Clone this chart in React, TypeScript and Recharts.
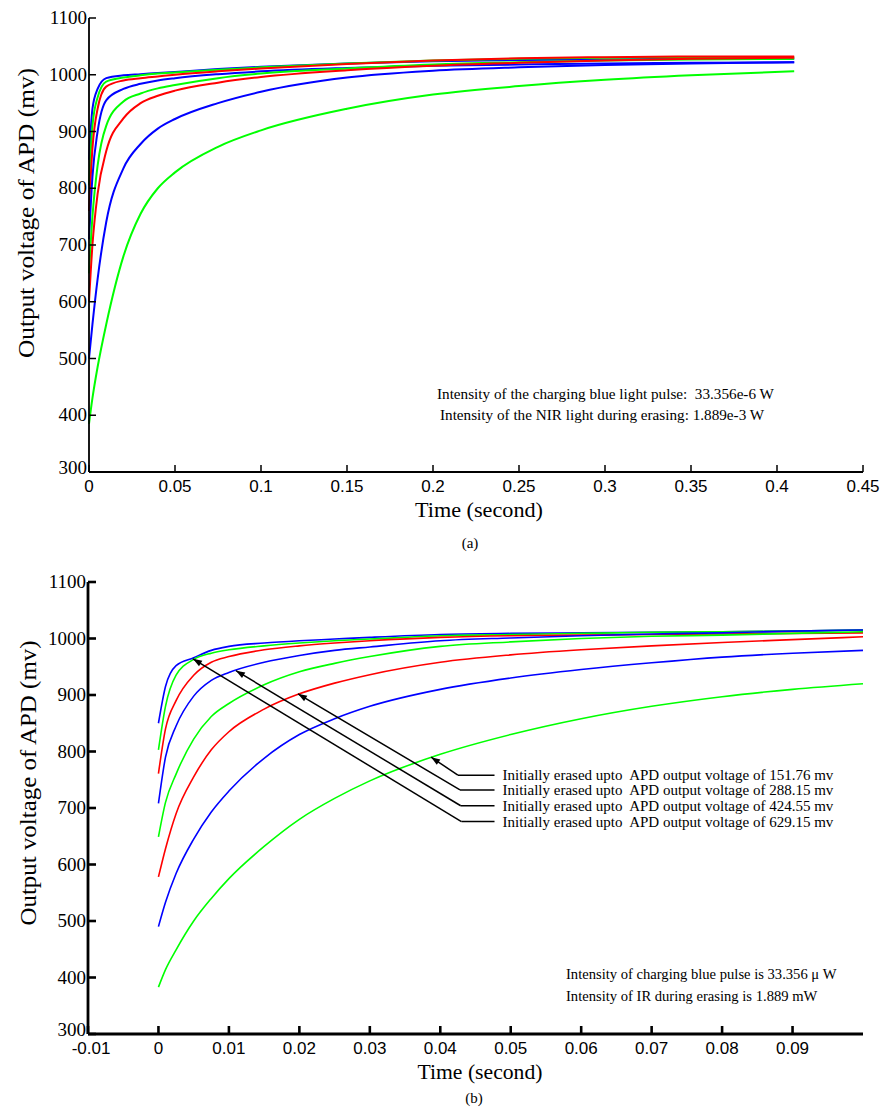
import React from "react";
import { LineChart, Line, XAxis, YAxis, ReferenceLine } from "recharts";

const SERIF = '"Liberation Serif", "Times New Roman", serif';
const SANS = '"Liberation Sans", Arial, sans-serif';

const BLUE = "#0000ff";
const GREEN = "#00ff00";
const RED = "#ff0000";

// ---------- panel (a): whole recovery, 0 - 0.41 s ----------
const timeA = [0, 0.002, 0.005, 0.01, 0.02, 0.03, 0.04, 0.05, 0.075, 0.1, 0.15, 0.2, 0.25, 0.3, 0.35, 0.41];
const a1 = [850, 940, 975, 994, 999, 1001, 1003, 1005, 1010, 1014, 1020, 1024, 1026, 1027, 1028, 1028];
const a2 = [805, 910, 960, 988, 995, 999, 1002, 1004, 1009, 1013, 1020, 1025, 1028, 1030, 1031, 1031];
const a3 = [760, 870, 940, 979, 990, 994, 997, 1000, 1006, 1011, 1019, 1025, 1029, 1031, 1032, 1032];
const a4 = [710, 820, 900, 955, 975, 984, 990, 994, 1001, 1006, 1012, 1016, 1018, 1020, 1021, 1022];
const a5 = [650, 750, 840, 910, 953, 967, 976, 982, 994, 1002, 1011, 1018, 1022, 1025, 1027, 1028];
const a6 = [600, 700, 790, 865, 923, 950, 963, 972, 986, 996, 1008, 1016, 1021, 1025, 1028, 1030];
const a7 = [500, 560, 640, 740, 835, 878, 905, 922, 950, 970, 995, 1007, 1013, 1017, 1020, 1022];
const a8 = [385, 430, 485, 560, 680, 755, 800, 828, 873, 902, 940, 965, 980, 991, 999, 1006];

const xTicksA = [0, 0.05, 0.1, 0.15, 0.2, 0.25, 0.3, 0.35, 0.4, 0.45];

// ---------- panel (b): first 0.1 s ----------
const timeB = [0, 0.001, 0.0025, 0.005, 0.0075, 0.01, 0.015, 0.02, 0.025, 0.03, 0.04, 0.05, 0.06, 0.07, 0.08, 0.09, 0.1];
const b1 = [850, 915, 952, 966, 979, 986, 992, 996, 999, 1002, 1007, 1009, 1010, 1011, 1012, 1013, 1015];
const b2 = [803, 880, 935, 963, 974, 980, 987, 992, 996, 999, 1005, 1007, 1009, 1011, 1012, 1013, 1015];
const b3 = [761, 840, 890, 935, 958, 968, 980, 987, 992, 996, 1002, 1005, 1006, 1007, 1008, 1009, 1010];
const b4 = [708, 790, 845, 898, 926, 940, 958, 970, 979, 985, 996, 1001, 1005, 1008, 1010, 1013, 1015];
const b5 = [649, 710, 760, 822, 862, 885, 918, 941, 956, 968, 986, 994, 1000, 1004, 1006, 1009, 1012];
const b6 = [578, 628, 690, 755, 803, 835, 875, 902, 921, 936, 958, 971, 980, 987, 993, 998, 1003];
const b7 = [490, 533, 584, 645, 693, 730, 788, 830, 858, 880, 910, 930, 945, 957, 967, 974, 979];
const b8 = [383, 414, 449, 500, 540, 575, 632, 680, 717, 748, 795, 830, 858, 880, 897, 910, 920];

const xTicksB = [-0.01, 0, 0.01, 0.02, 0.03, 0.04, 0.05, 0.06, 0.07, 0.08, 0.09];
const yTicks = [300, 400, 500, 600, 700, 800, 900, 1000, 1100];

const traceColors = [BLUE, GREEN, RED, BLUE, GREEN, RED, BLUE, GREEN];
const traceKeys = ["s1", "s2", "s3", "s4", "s5", "s6", "s7", "s8"];

const dataA = timeA.map((t, i) => ({
  t, s1: a1[i], s2: a2[i], s3: a3[i], s4: a4[i], s5: a5[i], s6: a6[i], s7: a7[i], s8: a8[i],
}));
const dataB = timeB.map((t, i) => ({
  t, s1: b1[i], s2: b2[i], s3: b3[i], s4: b4[i], s5: b5[i], s6: b6[i], s7: b7[i], s8: b8[i],
}));

// arrows of panel (b): tip on a curve, knee, then a short leader to the text
const arrowNotes = [
  { text: "Initially erased upto  APD output voltage of 151.76 mv", tip: [0.0387, 790], knee: [0.0425, 758] },
  { text: "Initially erased upto  APD output voltage of 288.15 mv", tip: [0.0198, 902], knee: [0.0428, 732] },
  { text: "Initially erased upto  APD output voltage of 424.55 mv", tip: [0.011, 943], knee: [0.0429, 704] },
  { text: "Initially erased upto  APD output voltage of 629.15 mv", tip: [0.0049, 964], knee: [0.043, 676] },
];
const leaderEnd = 0.0477;

const makeYTick = (len: number, w: number) => (props: any) => {
  const { x, y, payload } = props;
  // the lowest label sits a little above the corner, as in the original
  const dy = payload.value === 300 ? 2 : 6;
  return (
    <g>
      <line x1={x} y1={y} x2={x + len} y2={y} stroke="#000" strokeWidth={w} />
      <text x={x - 2} y={y + dy} textAnchor="end" fontFamily={SERIF} fontSize={19} fill="#000">
        {payload.value}
      </text>
    </g>
  );
};

const makeXTick = (len: number, w: number) => (props: any) => {
  const { x, y, payload } = props;
  return (
    <g>
      <line x1={x} y1={y} x2={x} y2={y - len} stroke="#000" strokeWidth={w} />
      <text x={payload.value < 0 ? x + 3 : x} y={y + 20} textAnchor="middle" fontFamily={SANS} fontSize={17} fill="#000">
        {String(payload.value)}
      </text>
    </g>
  );
};

const ArrowShape = (p: any) => {
  const { x1, y1, x2, y2 } = p;
  const ang = Math.atan2(y1 - y2, x1 - x2);
  const L = 9;
  const W = 3.2;
  const bx = x1 - L * Math.cos(ang);
  const by = y1 - L * Math.sin(ang);
  const pts = `${x1},${y1} ${bx + W * Math.sin(ang)},${by - W * Math.cos(ang)} ${bx - W * Math.sin(ang)},${by + W * Math.cos(ang)}`;
  return (
    <g>
      <line x1={x1} y1={y1} x2={x2} y2={y2} stroke="#000" strokeWidth={1.5} />
      <polygon points={pts} fill="#000" />
    </g>
  );
};

const leaderShape = (text: string) => (p: any) => {
  const { x1, y1, x2, y2 } = p;
  return (
    <g>
      <line x1={x1} y1={y1} x2={x2} y2={y2} stroke="#000" strokeWidth={1.5} />
      <text x={x2 + 8} y={y2} dominantBaseline="central" fontFamily={SERIF} fontSize={15} fill="#000" style={{ whiteSpace: "pre" }}>
        {text}
      </text>
    </g>
  );
};

export default function App() {
  return (
    <div style={{ position: "absolute", left: 0, top: 0, width: 881, height: 1107, background: "#fff", overflow: "hidden" }}>
      {/* (a) */}
      <div style={{ position: "absolute", left: 0, top: 0 }}>
        <LineChart width={881} height={530} data={dataA} margin={{ top: 18, right: 18, left: 29, bottom: 28 }}>
          <XAxis
            dataKey="t"
            type="number"
            domain={[0, 0.45]}
            ticks={xTicksA}
            height={30}
            tickSize={0}
            tickMargin={0}
            tickLine={false}
            axisLine={{ stroke: "#000", strokeWidth: 1.8 }}
            tick={makeXTick(7, 1.5)}
            interval={0}
          />
          <YAxis
            type="number"
            domain={[300, 1100]}
            ticks={yTicks}
            width={60}
            tickSize={0}
            tickMargin={0}
            tickLine={false}
            axisLine={{ stroke: "#000", strokeWidth: 1.8 }}
            tick={makeYTick(7, 1.5)}
            interval={0}
          />
          {traceKeys.map((k, i) => (
            <Line key={k} dataKey={k} type="monotone" stroke={traceColors[i]} strokeWidth={2} dot={false} isAnimationActive={false} />
          ))}
        </LineChart>
      </div>

      {/* (b) */}
      <div style={{ position: "absolute", left: 0, top: 550 }}>
        <LineChart width={881} height={540} data={dataB} margin={{ top: 32, right: 18, left: 28, bottom: 26 }}>
          <XAxis
            dataKey="t"
            type="number"
            domain={[-0.01, 0.1]}
            ticks={xTicksB}
            height={30}
            tickSize={0}
            tickMargin={0}
            tickLine={false}
            axisLine={{ stroke: "#000", strokeWidth: 2.8 }}
            tick={makeXTick(8, 2.6)}
            interval={0}
          />
          <YAxis
            type="number"
            domain={[300, 1100]}
            ticks={yTicks}
            width={60}
            tickSize={0}
            tickMargin={0}
            tickLine={false}
            axisLine={{ stroke: "#000", strokeWidth: 2.8 }}
            tick={makeYTick(8, 2.6)}
            interval={0}
          />
          {traceKeys.map((k, i) => (
            <Line key={k} dataKey={k} type="monotone" stroke={traceColors[i]} strokeWidth={1.6} dot={false} isAnimationActive={false} />
          ))}
          {arrowNotes.map((n, i) => (
            <ReferenceLine
              key={"arrow" + i}
              segment={[{ x: n.tip[0], y: n.tip[1] }, { x: n.knee[0], y: n.knee[1] }]}
              shape={ArrowShape}
            />
          ))}
          {arrowNotes.map((n, i) => (
            <ReferenceLine
              key={"lead" + i}
              segment={[{ x: n.knee[0], y: n.knee[1] }, { x: leaderEnd, y: n.knee[1] }]}
              shape={leaderShape(n.text)}
            />
          ))}
        </LineChart>
      </div>

      {/* titles and notes */}
      <svg width={881} height={1107} style={{ position: "absolute", left: 0, top: 0, pointerEvents: "none" }}>
        <g fontFamily={SERIF} fill="#000">
          <text transform="translate(26,213) rotate(-90)" textAnchor="middle" dominantBaseline="central" fontSize={23} textLength={290} lengthAdjust="spacingAndGlyphs">
            Output voltage of APD (mv)
          </text>
          <text x={479} y={517} textAnchor="middle" fontSize={20} textLength={128} lengthAdjust="spacingAndGlyphs">
            Time (second)
          </text>
          <text x={470} y={548} textAnchor="middle" fontSize={15}>(a)</text>
          <text x={437} y={399} fontSize={15.2} style={{ whiteSpace: "pre" }}>
            Intensity of the charging blue light pulse:  33.356e-6 W
          </text>
          <text x={440} y={419.5} fontSize={15.2}>
            Intensity of the NIR light during erasing: 1.889e-3 W
          </text>

          <text transform="translate(28,783) rotate(-90)" textAnchor="middle" dominantBaseline="central" fontSize={23} textLength={285} lengthAdjust="spacingAndGlyphs">
            Output voltage of APD (mv)
          </text>
          <text x={480} y={1079} textAnchor="middle" fontSize={20} textLength={125} lengthAdjust="spacingAndGlyphs">
            Time (second)
          </text>
          <text x={474} y={1103} textAnchor="middle" fontSize={15}>(b)</text>
          <text x={566} y={979} fontSize={14.6}>
            Intensity of charging blue pulse is 33.356 μ W
          </text>
          <text x={566} y={1000.5} fontSize={14.6}>
            Intensity of IR during erasing is 1.889 mW
          </text>
        </g>
      </svg>
    </div>
  );
}
